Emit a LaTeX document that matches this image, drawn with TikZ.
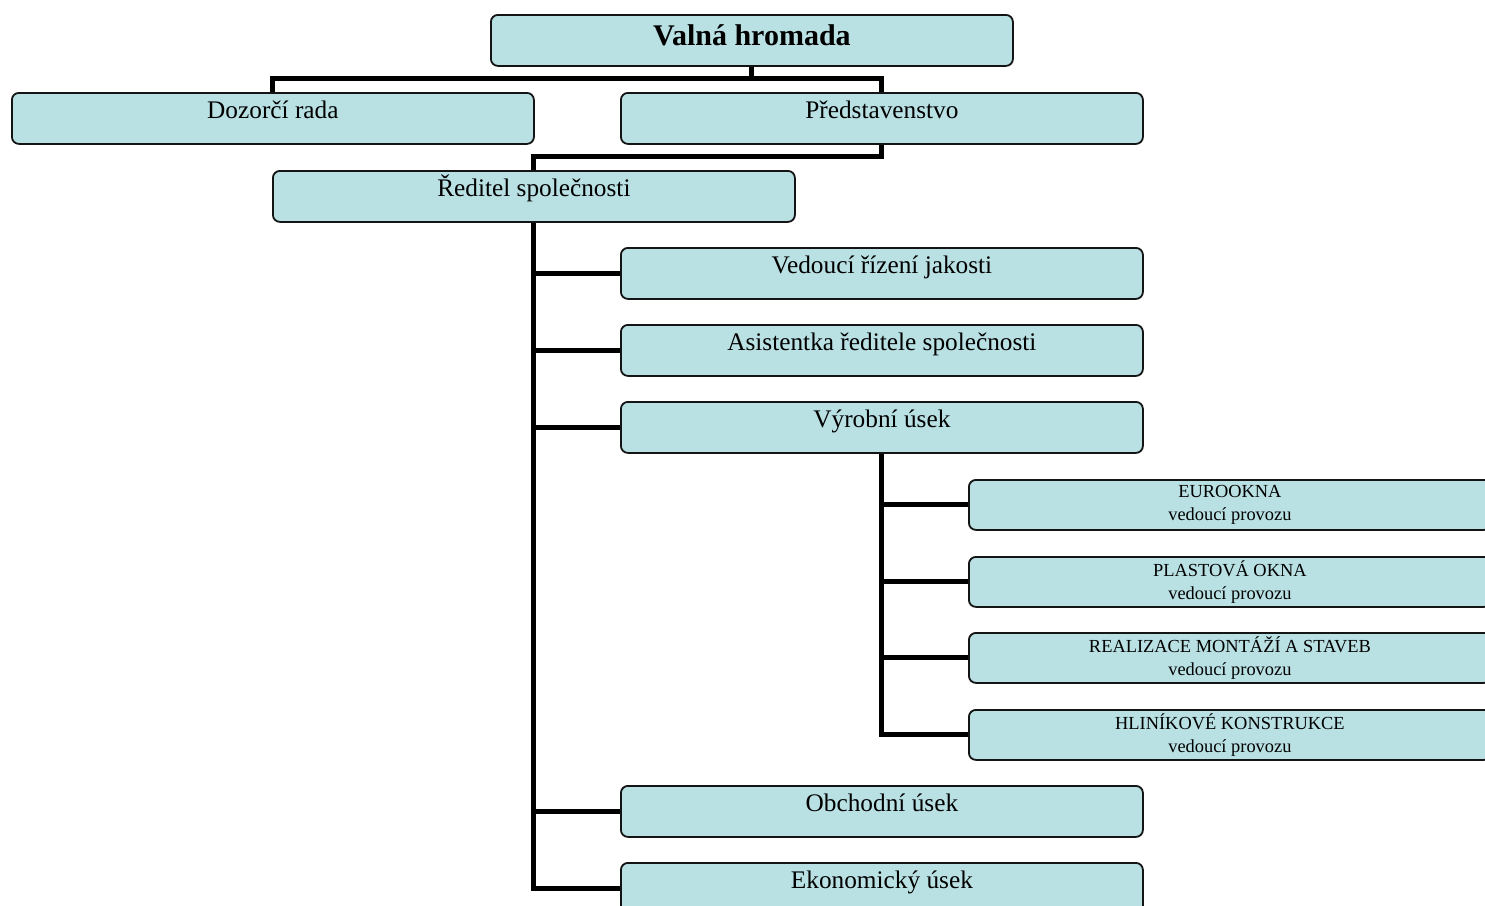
\documentclass[tikz,border=0pt]{standalone}
\usepackage{fontspec}
\setmainfont{Liberation Serif}
\definecolor{boxfill}{RGB}{185,224,227}
\definecolor{boxline}{RGB}{20,20,20}
\begin{document}
\begin{tikzpicture}[x=1pt,y=-1pt,
  orgbox/.style={draw=boxline,line width=1.8pt,fill=boxfill,rounded corners=7pt,
    minimum width=522pt,minimum height=51pt,inner sep=0pt,anchor=north west,
    font=\fontsize{25.3}{28}\selectfont,text height=17pt,text depth=17pt},
  topbox/.style={orgbox,font=\fontsize{30}{32}\selectfont\bfseries,text height=20pt,text depth=10pt},
  smallbox/.style={orgbox,minimum height=50pt,align=center,
    font=\fontsize{18.4}{22.5}\selectfont,text height={},text depth={}},
  conn/.style={line width=5pt,draw=black,line join=miter}]
\clip (0,0) rectangle (1485,905);
\fill[white] (0,0) rectangle (1485,905);
% boxes
\node[topbox] (valna) at (490,14) {Valná hromada};
\node[orgbox] (dozor) at (11,92) {Dozorčí rada};
\node[orgbox] (pred) at (620,92) {Představenstvo};
\node[orgbox] (redit) at (272,170) {Ředitel společnosti};
\node[orgbox] (jakost) at (620,247) {Vedoucí řízení jakosti};
\node[orgbox] (asist) at (620,324) {Asistentka ředitele společnosti};
\node[orgbox] (vyrob) at (620,401) {Výrobní úsek};
\node[smallbox] (euro) at (968,479) {EUROOKNA\\vedoucí provozu};
\node[smallbox] (plast) at (968,556) {PLASTOVÁ OKNA\\vedoucí provozu};
\node[smallbox] (real) at (968,632) {REALIZACE MONTÁŽÍ A STAVEB\\vedoucí provozu};
\node[smallbox] (hlin) at (968,709) {HLINÍKOVÉ KONSTRUKCE\\vedoucí provozu};
\node[orgbox] (obch) at (620,785) {Obchodní úsek};
\node[orgbox] (ekon) at (620,862) {Ekonomický úsek};
% connectors
\draw[conn] (valna.south) -- (valna.south |- 0,78) -| (dozor.north);
\draw[conn] (valna.south |- 0,78) -| (pred.north);
\draw[conn] (pred.south) -- (pred.south |- 0,156) -| (redit.north);
\draw[conn] (redit.south) |- (ekon.west);
\draw[conn] (redit.south |- jakost.west) -- (jakost.west);
\draw[conn] (redit.south |- asist.west) -- (asist.west);
\draw[conn] (redit.south |- vyrob.west) -- (vyrob.west);
\draw[conn] (redit.south |- obch.west) -- (obch.west);
\draw[conn] (vyrob.south) |- (hlin.west);
\draw[conn] (vyrob.south |- euro.west) -- (euro.west);
\draw[conn] (vyrob.south |- plast.west) -- (plast.west);
\draw[conn] (vyrob.south |- real.west) -- (real.west);
\end{tikzpicture}
\end{document}
